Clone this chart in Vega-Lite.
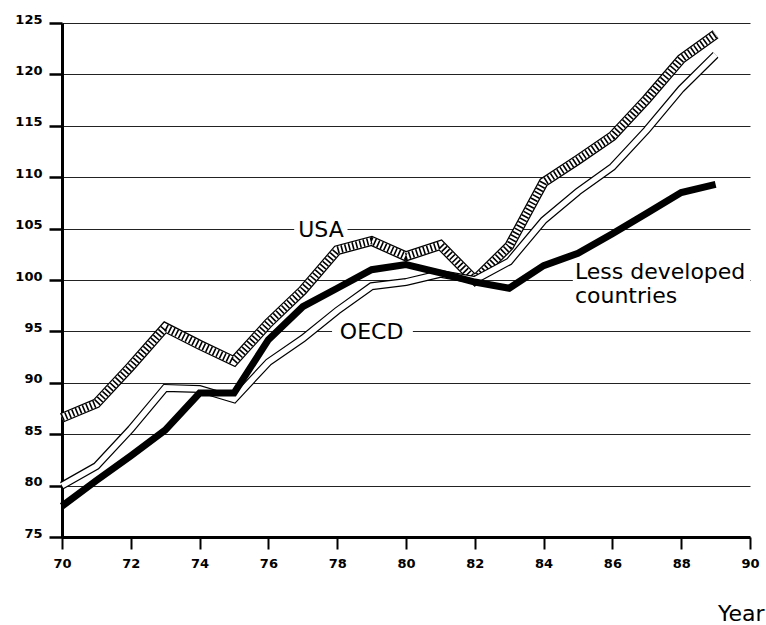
{
  "$schema": "https://vega.github.io/schema/vega-lite/v6.json",
  "width": 688,
  "height": 514,
  "autosize": {"type": "none"},
  "padding": {"left": 62, "top": 23, "right": 16, "bottom": 88},
  "background": "white",
  "config": {
    "view": {"stroke": null},
    "font": "DejaVu Sans"
  },
  "datasets": {
    "series": [
      {"year": 70, "series": "LDC", "value": 78.0}, {"year": 71, "series": "LDC", "value": 80.5}, {"year": 72, "series": "LDC", "value": 82.9}, {"year": 73, "series": "LDC", "value": 85.4}, {"year": 74, "series": "LDC", "value": 89.0}, {"year": 75, "series": "LDC", "value": 89.0}, {"year": 76, "series": "LDC", "value": 94.2}, {"year": 77, "series": "LDC", "value": 97.4}, {"year": 78, "series": "LDC", "value": 99.2}, {"year": 79, "series": "LDC", "value": 101.0}, {"year": 80, "series": "LDC", "value": 101.5}, {"year": 81, "series": "LDC", "value": 100.7}, {"year": 82, "series": "LDC", "value": 99.8}, {"year": 83, "series": "LDC", "value": 99.2}, {"year": 84, "series": "LDC", "value": 101.4}, {"year": 85, "series": "LDC", "value": 102.6}, {"year": 86, "series": "LDC", "value": 104.5}, {"year": 87, "series": "LDC", "value": 106.5}, {"year": 88, "series": "LDC", "value": 108.5}, {"year": 89, "series": "LDC", "value": 109.3},
      {"year": 70, "series": "OECD", "value": 80.0}, {"year": 71, "series": "OECD", "value": 81.9}, {"year": 72, "series": "OECD", "value": 85.5}, {"year": 73, "series": "OECD", "value": 89.5}, {"year": 74, "series": "OECD", "value": 89.4}, {"year": 75, "series": "OECD", "value": 88.4}, {"year": 76, "series": "OECD", "value": 92.0}, {"year": 77, "series": "OECD", "value": 94.3}, {"year": 78, "series": "OECD", "value": 97.0}, {"year": 79, "series": "OECD", "value": 99.4}, {"year": 80, "series": "OECD", "value": 99.8}, {"year": 81, "series": "OECD", "value": 100.6}, {"year": 82, "series": "OECD", "value": 100.0}, {"year": 83, "series": "OECD", "value": 101.8}, {"year": 84, "series": "OECD", "value": 105.8}, {"year": 85, "series": "OECD", "value": 108.6}, {"year": 86, "series": "OECD", "value": 111.0}, {"year": 87, "series": "OECD", "value": 114.6}, {"year": 88, "series": "OECD", "value": 118.6}, {"year": 89, "series": "OECD", "value": 121.9},
      {"year": 70, "series": "USA", "value": 86.6}, {"year": 71, "series": "USA", "value": 88.0}, {"year": 72, "series": "USA", "value": 91.6}, {"year": 73, "series": "USA", "value": 95.4}, {"year": 74, "series": "USA", "value": 93.7}, {"year": 75, "series": "USA", "value": 92.1}, {"year": 76, "series": "USA", "value": 95.8}, {"year": 77, "series": "USA", "value": 99.0}, {"year": 78, "series": "USA", "value": 102.9}, {"year": 79, "series": "USA", "value": 103.8}, {"year": 80, "series": "USA", "value": 102.3}, {"year": 81, "series": "USA", "value": 103.4}, {"year": 82, "series": "USA", "value": 100.0}, {"year": 83, "series": "USA", "value": 103.3}, {"year": 84, "series": "USA", "value": 109.5}, {"year": 85, "series": "USA", "value": 111.7}, {"year": 86, "series": "USA", "value": 114.0}, {"year": 87, "series": "USA", "value": 117.6}, {"year": 88, "series": "USA", "value": 121.5}, {"year": 89, "series": "USA", "value": 123.9}
    ],
    "labels": [
      {"label": "USA", "year": 77.53, "value": 104.9, "x1": 76.75, "x2": 78.3, "y1": 104.3, "y2": 105.7},
      {"label": "OECD", "year": 79.0, "value": 94.9, "x1": 77.85, "x2": 80.2, "y1": 94.3, "y2": 95.7},
      {"label": "Less developed", "year": 84.91, "value": 100.8, "x1": 84.85, "x2": 90, "y1": 99.5, "y2": 100.5},
      {"label": "countries", "year": 84.91, "value": 98.45}
    ]
  },
  "layer": [
    {
      "data": {"name": "labels"},
      "transform": [{"filter": "isValid(datum.x1)"}],
      "mark": {"type": "rect", "fill": "white", "stroke": null},
      "encoding": {
        "x": {"field": "x1", "type": "quantitative", "scale": {"domain": [70, 90], "nice": false, "zero": false},
          "axis": {"values": [70, 72, 74, 76, 78, 80, 82, 84, 86, 88, 90], "format": "d", "grid": false, "domainColor": "black", "domainWidth": 3, "tickColor": "black", "tickWidth": 2, "tickSize": 12, "labelFont": "DejaVu Sans", "labelFontSize": 13, "labelFontWeight": "bold", "labelColor": "black", "labelPadding": 8, "labelFlush": false,
            "title": "Year", "titleFont": "DejaVu Sans", "titleFontSize": 22, "titleFontWeight": "normal", "titleColor": "black", "titleAlign": "right", "titleAnchor": null, "titleX": 702, "titleY": 83, "titleBaseline": "alphabetic"}},
        "x2": {"field": "x2"},
        "y": {"field": "y1", "type": "quantitative", "scale": {"domain": [75, 125], "nice": false, "zero": false},
          "axis": {"values": [75, 80, 85, 90, 95, 100, 105, 110, 115, 120, 125], "grid": true, "gridColor": "#222", "gridWidth": 1, "domainColor": "black", "domainWidth": 3, "tickColor": "black", "tickWidth": 2.5, "tickSize": 13, "labelFont": "DejaVu Sans", "labelFontSize": 13, "labelFontWeight": "bold", "labelColor": "black", "labelPadding": 7, "labelBaseline": "alphabetic", "labelFlush": false, "title": null}},
        "y2": {"field": "y2"}
      }
    },
    {
      "data": {"name": "series"},
      "transform": [{"filter": "datum.series === 'USA'"}],
      "mark": {"type": "line", "color": "black", "strokeWidth": 10, "strokeJoin": "miter"},
      "encoding": {"x": {"field": "year", "type": "quantitative"}, "y": {"field": "value", "type": "quantitative"}}
    },
    {
      "data": {"name": "series"},
      "transform": [{"filter": "datum.series === 'USA'"}],
      "mark": {"type": "line", "color": "white", "strokeWidth": 7.5, "strokeJoin": "miter"},
      "encoding": {"x": {"field": "year", "type": "quantitative"}, "y": {"field": "value", "type": "quantitative"}}
    },
    {
      "data": {"name": "series"},
      "transform": [{"filter": "datum.series === 'USA'"}],
      "mark": {"type": "line", "color": "black", "strokeWidth": 7.5, "strokeDash": [1.6, 2.2], "strokeJoin": "miter"},
      "encoding": {"x": {"field": "year", "type": "quantitative"}, "y": {"field": "value", "type": "quantitative"}}
    },
    {
      "data": {"name": "series"},
      "transform": [{"filter": "datum.series === 'OECD'"}],
      "mark": {"type": "line", "color": "black", "strokeWidth": 8, "strokeJoin": "miter"},
      "encoding": {"x": {"field": "year", "type": "quantitative"}, "y": {"field": "value", "type": "quantitative"}}
    },
    {
      "data": {"name": "series"},
      "transform": [{"filter": "datum.series === 'OECD'"}],
      "mark": {"type": "line", "color": "white", "strokeWidth": 5.6, "strokeJoin": "miter"},
      "encoding": {"x": {"field": "year", "type": "quantitative"}, "y": {"field": "value", "type": "quantitative"}}
    },
    {
      "data": {"name": "series"},
      "transform": [{"filter": "datum.series === 'LDC'"}],
      "mark": {"type": "line", "color": "black", "strokeWidth": 7, "strokeJoin": "miter"},
      "encoding": {"x": {"field": "year", "type": "quantitative"}, "y": {"field": "value", "type": "quantitative"}}
    },
    {
      "data": {"name": "labels"},
      "transform": [{"filter": "datum.label === 'USA' || datum.label === 'OECD'"}],
      "mark": {"type": "text", "font": "DejaVu Sans", "fontSize": 22, "color": "black", "align": "center", "baseline": "middle"},
      "encoding": {"x": {"field": "year", "type": "quantitative"}, "y": {"field": "value", "type": "quantitative"}, "text": {"field": "label"}}
    },
    {
      "data": {"name": "labels"},
      "transform": [{"filter": "datum.label !== 'USA' && datum.label !== 'OECD'"}],
      "mark": {"type": "text", "font": "DejaVu Sans", "fontSize": 22, "color": "black", "align": "left", "baseline": "middle"},
      "encoding": {"x": {"field": "year", "type": "quantitative"}, "y": {"field": "value", "type": "quantitative"}, "text": {"field": "label"}}
    }
  ]
}
